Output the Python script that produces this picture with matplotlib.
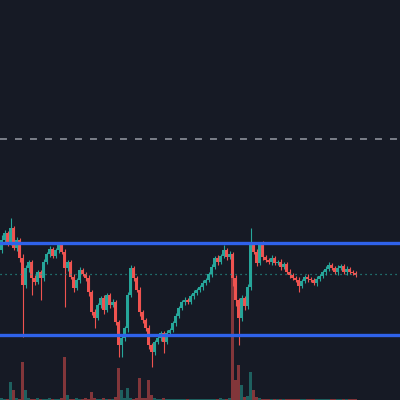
import matplotlib
matplotlib.use("Agg")
import matplotlib.pyplot as plt
import numpy as np

# price data (one candle per bar, open = previous close)
first_open = 150
closes = [160, 167, 158, 172, 152, 160, 142, 115, 132, 138,
          122, 118, 128, 122, 138, 146, 151, 144, 150, 155,
          148, 132, 138, 123, 112, 120, 130, 126, 122, 108,
          88, 82, 95, 102, 90, 105, 95, 98, 78, 55,
          62, 72, 105, 132, 122, 110, 88, 80, 72, 55,
          48, 58, 62, 67, 58, 67, 70, 77, 84, 92,
          98, 100, 98, 104, 107, 110, 113, 117, 120, 126,
          133, 142, 138, 144, 150, 143, 146, 122, 100, 82,
          102, 94, 113, 155, 148, 137, 156, 143, 140, 138,
          142, 137, 138, 133, 136, 128, 125, 122, 120, 114,
          119, 123, 121, 120, 117, 121, 124, 128, 131, 135,
          132, 128, 132, 134, 128, 131, 128, 127, 125]
wick_up = [5, 3, 2, 10, 2, 3, 2, 4, 3, 2,
           2, 3, 2, 2, 3, 2, 3, 2, 2, 3,
           2, 3, 2, 2, 3, 2, 3, 2, 2, 3,
           2, 3, 2, 2, 3, 2, 2, 3, 2, 2,
           3, 2, 3, 3, 2, 2, 3, 2, 2, 3,
           2, 2, 3, 2, 2, 3, 2, 2, 3, 2,
           2, 3, 2, 2, 3, 2, 2, 3, 2, 2,
           3, 2, 3, 2, 5, 2, 3, 2, 3, 2,
           3, 2, 3, 17, 2, 3, 2, 3, 2, 2,
           3, 2, 2, 3, 2, 2, 3, 2, 2, 3,
           2, 2, 3, 2, 2, 3, 2, 2, 3, 3,
           2, 2, 3, 2, 2, 3, 2, 2, 2]
wick_dn = [3, 2, 4, 3, 2, 3, 4, 52, 3, 4,
           17, 3, 2, 22, 3, 2, 3, 2, 2, 3,
           2, 39, 3, 2, 4, 2, 3, 2, 3, 4,
           3, 10, 2, 3, 4, 2, 3, 2, 3, 12,
           12, 3, 4, 2, 3, 2, 4, 3, 3, 4,
           15, 3, 2, 3, 11, 2, 3, 2, 3, 2,
           2, 3, 2, 2, 3, 2, 2, 3, 2, 2,
           3, 2, 3, 2, 2, 3, 2, 8, 6, 27,
           3, 4, 3, 3, 2, 3, 2, 3, 2, 2,
           3, 2, 2, 3, 2, 2, 3, 2, 2, 6,
           2, 2, 3, 2, 2, 3, 2, 2, 3, 2,
           2, 2, 3, 2, 2, 3, 2, 2, 2]
volume = [2, 1, 1, 18, 10, 2, 1, 38, 10, 2,
          1, 1, 2, 1, 1, 1, 2, 1, 1, 1,
          2, 43, 5, 1, 1, 2, 1, 1, 2, 1,
          8, 2, 1, 1, 2, 1, 1, 1, 3, 32,
          10, 2, 12, 2, 1, 2, 22, 2, 2, 20,
          5, 2, 1, 1, 2, 1, 1, 1, 1, 1,
          1, 1, 1, 1, 1, 1, 1, 1, 1, 1,
          1, 1, 1, 2, 1, 1, 2, 137, 20, 35,
          15, 3, 4, 28, 10, 3, 2, 1, 1, 1,
          1, 1, 1, 1, 1, 1, 1, 1, 1, 1,
          1, 1, 1, 1, 1, 1, 1, 1, 1, 1,
          1, 1, 1, 1, 1, 1, 1, 1, 1]

# horizontal levels
resistance = 157
support = 65
last_price = 126
dashed_level = 261

bg = "#161a25"
up_col = "#26a69a"
dn_col = "#ef5350"

opens = [first_open] + closes[:-1]
n = len(closes)
x = np.arange(n)
highs = [max(o, c) + w for o, c, w in zip(opens, closes, wick_up)]
lows = [min(o, c) - w for o, c, w in zip(opens, closes, wick_dn)]
colors = [up_col if c >= o else dn_col for o, c in zip(opens, closes)]

plt.rcParams['lines.scale_dashes'] = False
fig = plt.figure(figsize=(4, 4), dpi=100, facecolor=bg)
ax = fig.add_axes([0, 0, 1, 1])
ax2 = ax.twinx()
ax.set_zorder(ax2.get_zorder() + 1)
ax.patch.set_visible(False)
ax2.set_facecolor(bg)

# volume
ax2.bar(x, volume, width=0.7, color=colors, alpha=0.5, linewidth=0)
ax2.set_ylim(0, 400)

# candles
ax.vlines(x, lows, highs, colors=colors, linewidth=0.8)
bottoms = [min(o, c) for o, c in zip(opens, closes)]
heights = [max(abs(c - o), 0.8) for o, c in zip(opens, closes)]
ax.bar(x, heights, bottom=bottoms, width=0.75, color=colors, linewidth=0)

ax.axhline(resistance, color="#2f62ea", linewidth=2.4)
ax.axhline(support, color="#2f62ea", linewidth=2.4)
ax.axhline(last_price, color=up_col, linewidth=0.9, linestyle=(0, (0.8, 2.8)))
ax.axhline(dashed_level, color="#8c909a", linewidth=1.2, linestyle=(0, (5, 5.8)))

ax.set_xlim(-0.5, -0.5 + 400 / 3)
ax.set_ylim(0, 400)
for a in (ax, ax2):
    a.set_xticks([])
    a.set_yticks([])
    for s in a.spines.values():
        s.set_visible(False)

fig.savefig("out.png", dpi=100, facecolor=bg)
